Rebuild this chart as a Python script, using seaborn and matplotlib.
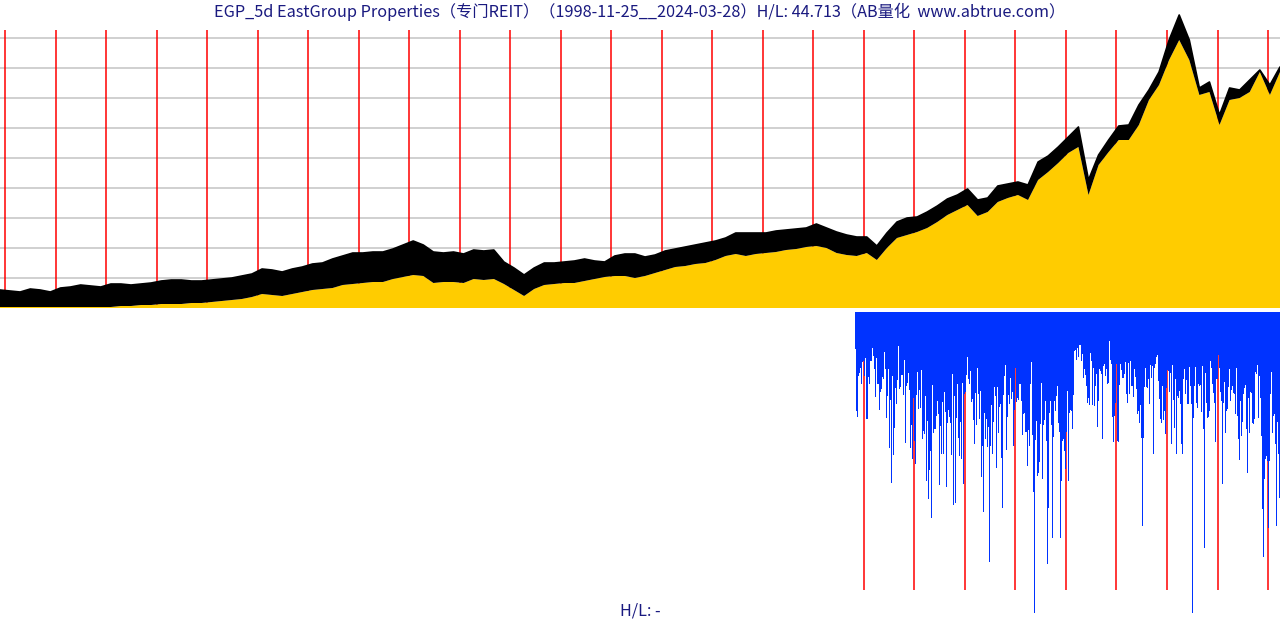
import numpy as np
import matplotlib
matplotlib.use("Agg")
import matplotlib.pyplot as plt
import seaborn as sns
import pandas as pd

# ---------------- data ----------------
START_YEAR = 1998.901      # 1998-11-25
END_YEAR = 2024.237        # 2024-03-28
BLUE_START_YEAR = 2015.805 # start of the lower series

title_text = "EGP_5d EastGroup Properties（专门REIT）（1998-11-25__2024-03-28）H/L: 44.713（AB量化  www.abtrue.com）"
bottom_text = "H/L: -"

# upper envelope (black band top) and lower series (gold), evenly spaced over the period
price_high = [
    18, 17, 16, 19, 18, 16, 20, 21, 23, 22,
    21, 24, 24, 23, 24, 25, 27, 28, 28, 27,
    27, 28, 29, 30, 32, 34, 39, 38, 36, 39,
    41, 44, 45, 49, 52, 55, 55, 56, 56, 59,
    63, 67, 63, 56, 55, 56, 54, 58, 57, 58,
    46, 40, 33, 40, 45, 45, 46, 47, 49, 47,
    46, 52, 54, 54, 51, 53, 57, 59, 61, 63,
    65, 67, 70, 75, 75, 75, 75, 77, 78, 79,
    80, 84, 80, 76, 73, 71, 71, 62, 75, 86,
    90, 91, 96, 102, 109, 113, 119, 108, 110, 122,
    124, 126, 123, 146, 152, 161, 171, 181, 128, 153,
    168, 182, 183, 203, 218, 236, 268, 293, 268, 220,
    226, 193, 220, 218, 228, 238, 223, 241,
]
price_low = [
    1, 1, 1, 1, 1, 1, 1, 1, 1, 1,
    1, 1, 2, 2, 3, 3, 4, 4, 4, 5,
    5, 6, 7, 8, 9, 11, 14, 13, 12, 14,
    16, 18, 19, 20, 23, 24, 25, 26, 26, 29,
    31, 33, 32, 25, 26, 26, 25, 29, 28, 29,
    24, 18, 12, 19, 23, 24, 25, 25, 27, 29,
    31, 32, 32, 30, 32, 35, 38, 41, 42, 44,
    45, 48, 52, 54, 52, 54, 55, 56, 58, 59,
    61, 62, 60, 55, 53, 52, 55, 48, 60, 70,
    73, 76, 80, 86, 93, 98, 103, 92, 96, 106,
    110, 113, 108, 128, 136, 145, 155, 161, 113, 143,
    156, 168, 168, 183, 208, 223, 248, 268, 248, 213,
    216, 183, 208, 210, 216, 236, 213, 236,
]

# lower panel values (depth), first and second halves
blue_depth_a = [
    36, 98, 104, 63, 60, 55, 71, 49, 48, 63, 45, 106, 106, 64, 71, 48, 48, 35, 43, 56,
    84, 45, 71, 71, 97, 79, 76, 64, 66, 39, 56, 105, 83, 56, 135, 87, 170, 63, 142, 115,
    75, 91, 67, 33, 76, 74, 62, 62, 82, 47, 130, 73, 70, 60, 77, 135, 112, 146, 85, 128,
    151, 82, 59, 96, 77, 95, 57, 126, 118, 121, 83, 168, 108, 186, 157, 138, 205, 72, 120, 116,
    116, 103, 88, 101, 172, 113, 141, 89, 141, 79, 99, 174, 110, 97, 104, 110, 142, 61, 192, 83,
    190, 105, 71, 125, 143, 109, 146, 70, 171, 81, 79, 62, 44, 66, 71, 58, 89, 86, 107, 131,
    80, 112, 55, 81, 106, 78, 164, 133, 199, 100, 126, 106, 134, 114, 249, 133, 92, 141, 109, 74,
    83, 155, 74, 120, 94, 91, 145, 195, 82, 63, 52, 137, 104, 82, 91, 65, 86, 79, 133, 97,
    55, 89, 85, 87, 71, 71, 88, 122, 101, 100, 119, 119, 153, 117, 133, 71, 49, 122, 179, 301,
    127, 108, 163, 160, 149, 111, 70, 166, 112, 107, 88, 128, 251, 195, 100, 88, 112, 225, 124, 88,
    98, 83, 73, 110, 119, 225,
]
blue_depth_b = [
    168, 128, 126, 138, 156, 119, 78, 168, 100, 97, 98, 116, 82, 38, 37, 47, 35, 44, 32, 32,
    48, 41, 65, 56, 62, 73, 90, 85, 92, 40, 48, 92, 55, 93, 73, 61, 114, 88, 56, 58,
    61, 126, 53, 51, 63, 56, 71, 70, 28, 47, 51, 104, 129, 103, 90, 51, 128, 129, 72, 51,
    57, 65, 65, 61, 49, 81, 90, 50, 81, 48, 73, 73, 84, 56, 64, 76, 101, 98, 110, 92,
    125, 213, 125, 74, 55, 74, 75, 66, 91, 52, 65, 53, 141, 55, 51, 44, 42, 68, 86, 106,
    110, 73, 107, 98, 121, 75, 57, 58, 79, 60, 131, 52, 87, 115, 66, 141, 83, 85, 78, 91,
    131, 141, 66, 56, 81, 67, 91, 91, 54, 73, 91, 301, 105, 73, 54, 90, 95, 71, 73, 72,
    99, 53, 116, 235, 60, 90, 105, 104, 98, 48, 55, 71, 80, 90, 129, 66, 66, 42, 55, 79,
    88, 171, 90, 69, 120, 98, 96, 74, 56, 88, 77, 73, 80, 81, 101, 55, 103, 126, 147, 88,
    123, 109, 81, 75, 72, 116, 160, 85, 120, 79, 80, 110, 111, 106, 59, 61, 52, 105, 63, 85,
    123, 196, 244, 166, 146, 143, 148, 215, 148, 81, 59, 120, 103, 101, 131, 213, 109, 141, 185, 91,
]

year_marks = list(range(1999, 2025))
grid_levels = [30, 60, 90, 120, 150, 180, 210, 240, 270]

# ---------------- style ----------------
GOLD = "#FFCC00"
BLUE = "#0033FF"
RED = "#FF0000"
GRID = "#C8C8C8"
NAVY = "#1A1A80"

sns.set_theme(style="white")
plt.rcParams["font.family"] = ["Noto Sans CJK SC", "DejaVu Sans"]

W, H = 1280, 620
fig = plt.figure(figsize=(W / 100, H / 100), dpi=100, facecolor="white")

# top panel: pixel rows 0..308 (baseline at 308)
ax_top = fig.add_axes([0, (H - 308) / H, 1, 308 / H])
# bottom panel: pixel rows 312..613
ax_bot = fig.add_axes([0, (H - 613) / H, 1, 301 / H])

top_df = pd.DataFrame({
    "t": np.linspace(START_YEAR, END_YEAR, len(price_high)),
    "high": price_high,
    "low": price_low,
})

ax_top.hlines(grid_levels, START_YEAR, END_YEAR, colors=GRID, linewidth=1.2, zorder=0.5)
ax_top.vlines(year_marks, 0, 278, colors=RED, linewidth=1.1, zorder=1)
ax_top.fill_between(top_df["t"], 0, top_df["low"], color=GOLD, linewidth=0, zorder=2)
ax_top.fill_between(top_df["t"], top_df["low"], top_df["high"], color="black", linewidth=0, zorder=3)
sns.lineplot(data=top_df, x="t", y="high", ax=ax_top, color="black", linewidth=1.2, zorder=4)
ax_top.set_xlim(START_YEAR, END_YEAR)
ax_top.set_ylim(0, 308)
ax_top.axis("off")

depth = np.array(blue_depth_a + blue_depth_b, dtype=float)
nb = len(depth)
step = (END_YEAR - BLUE_START_YEAR) / nb
centers = BLUE_START_YEAR + (np.arange(nb) + 0.5) * step
ax_bot.vlines([y for y in year_marks if y > BLUE_START_YEAR], -278, 0, colors=RED, linewidth=1.1, zorder=1)
ax_bot.vlines(centers, -depth, 0, colors=BLUE, linewidth=0.72, antialiased=False, zorder=2)
ax_bot.set_xlim(START_YEAR, END_YEAR)
ax_bot.set_ylim(-301, 0)
ax_bot.axis("off")

fig.text(0.5, 1 - 12 / H, title_text, ha="center", va="center", color=NAVY, fontsize=11.7)
fig.text(0.5, 1 - 611 / H, bottom_text, ha="center", va="center", color=NAVY, fontsize=11.7)

fig.savefig("out.png", dpi=100, facecolor="white")
